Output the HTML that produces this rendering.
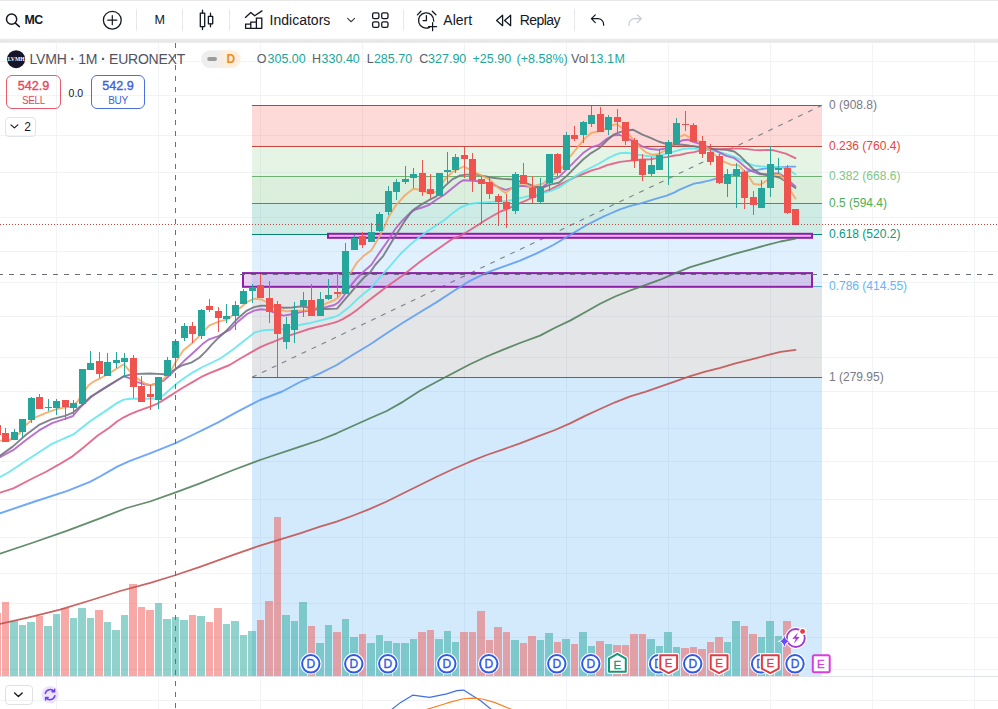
<!DOCTYPE html>
<html><head><meta charset="utf-8"><title>LVMH chart</title>
<style>
html,body{margin:0;padding:0;background:#fff;}
body{width:998px;height:709px;overflow:hidden;position:relative;font-family:"Liberation Sans",sans-serif;color:#131722;}
#chart{position:absolute;left:0;top:0;}
.tb{position:absolute;left:0;top:0;width:998px;height:38px;background:#fff;border-top:1px solid #e8e8e8;box-sizing:border-box;}
.band{position:absolute;left:0;top:38px;width:998px;height:5px;background:#fff;}
.t{position:absolute;white-space:nowrap;line-height:1;}
.sep{position:absolute;top:9px;width:1px;height:22px;background:#e6e8ee;}
.ico{position:absolute;overflow:visible;}
.btn{position:absolute;box-sizing:border-box;border-radius:6px;border:1px solid;background:transparent;text-align:center;}
</style></head><body>
<svg id="chart" width="998" height="709" viewBox="0 0 998 709">
<rect x="56" y="42" width="1" height="667" fill="#f2f3f7"/>
<rect x="158" y="42" width="1" height="667" fill="#f2f3f7"/>
<rect x="260" y="42" width="1" height="667" fill="#f2f3f7"/>
<rect x="362" y="42" width="1" height="667" fill="#f2f3f7"/>
<rect x="464" y="42" width="1" height="667" fill="#f2f3f7"/>
<rect x="566" y="42" width="1" height="667" fill="#f2f3f7"/>
<rect x="668" y="42" width="1" height="667" fill="#f2f3f7"/>
<rect x="770" y="42" width="1" height="667" fill="#f2f3f7"/>
<rect x="872" y="42" width="1" height="667" fill="#f2f3f7"/>
<rect x="974" y="42" width="1" height="667" fill="#f2f3f7"/>
<rect x="0" y="61" width="998" height="1" fill="#f2f3f7"/>
<rect x="0" y="95" width="998" height="1" fill="#f2f3f7"/>
<rect x="0" y="135" width="998" height="1" fill="#f2f3f7"/>
<rect x="0" y="172" width="998" height="1" fill="#f2f3f7"/>
<rect x="0" y="217" width="998" height="1" fill="#f2f3f7"/>
<rect x="0" y="251" width="998" height="1" fill="#f2f3f7"/>
<rect x="0" y="282" width="998" height="1" fill="#f2f3f7"/>
<rect x="0" y="316" width="998" height="1" fill="#f2f3f7"/>
<rect x="0" y="357" width="998" height="1" fill="#f2f3f7"/>
<rect x="0" y="391" width="998" height="1" fill="#f2f3f7"/>
<rect x="0" y="428" width="998" height="1" fill="#f2f3f7"/>
<rect x="0" y="461" width="998" height="1" fill="#f2f3f7"/>
<rect x="0" y="499" width="998" height="1" fill="#f2f3f7"/>
<rect x="0" y="537" width="998" height="1" fill="#f2f3f7"/>
<rect x="0" y="573" width="998" height="1" fill="#f2f3f7"/>
<rect x="0" y="603" width="998" height="1" fill="#f2f3f7"/>
<rect x="0" y="637" width="998" height="1" fill="#f2f3f7"/>
<rect x="0" y="669" width="998" height="1" fill="#f2f3f7"/>
<rect x="0" y="700" width="998" height="1" fill="#f2f3f7"/>
<rect x="252" y="105.5" width="570" height="41" fill="#f44336" fill-opacity="0.2"/>
<rect x="252" y="146.5" width="570" height="30" fill="#81c784" fill-opacity="0.2"/>
<rect x="252" y="176.5" width="570" height="27" fill="#4caf50" fill-opacity="0.2"/>
<rect x="252" y="203.5" width="570" height="31" fill="#089981" fill-opacity="0.2"/>
<rect x="252" y="234.5" width="570" height="52" fill="#64b5f6" fill-opacity="0.2"/>
<rect x="252" y="286.5" width="570" height="91" fill="#787b86" fill-opacity="0.2"/>
<rect x="252" y="377.5" width="570" height="299" fill="#2196f3" fill-opacity="0.2"/>
<rect x="252" y="105" width="570" height="1" fill="#62656f"/>
<rect x="252" y="146" width="570" height="1" fill="#c4463d"/>
<rect x="252" y="176" width="570" height="1" fill="#6fb174"/>
<rect x="252" y="203" width="570" height="1" fill="#419a46"/>
<rect x="252" y="234" width="570" height="1" fill="#088270"/>
<rect x="252" y="286" width="570" height="1" fill="#5aa9ea"/>
<rect x="252" y="377" width="570" height="1" fill="#62656f"/>
<line x1="252" y1="377.3" x2="822" y2="105.3" stroke="#7d808b" stroke-width="1.1" stroke-dasharray="5 6"/>
<rect x="328" y="233.8" width="484" height="4.0" fill="#f7b2fa" fill-opacity="0.95" stroke="#8f1fa8" stroke-width="2"/>
<rect x="243" y="273.1" width="569" height="13.699999999999989" fill="#9c27b0" fill-opacity="0.2" stroke="#8f1fa8" stroke-width="2"/>
<rect x="-7" y="613" width="8" height="63" fill="#ef5350" fill-opacity="0.5"/>
<rect x="2" y="602" width="7" height="74" fill="#ef5350" fill-opacity="0.5"/>
<rect x="10" y="621" width="8" height="55" fill="#26a69a" fill-opacity="0.5"/>
<rect x="19" y="625" width="7" height="51" fill="#26a69a" fill-opacity="0.5"/>
<rect x="27" y="622" width="8" height="54" fill="#26a69a" fill-opacity="0.5"/>
<rect x="36" y="616" width="7" height="60" fill="#ef5350" fill-opacity="0.5"/>
<rect x="44" y="626" width="8" height="50" fill="#26a69a" fill-opacity="0.5"/>
<rect x="53" y="614" width="7" height="62" fill="#26a69a" fill-opacity="0.5"/>
<rect x="61" y="608" width="8" height="68" fill="#ef5350" fill-opacity="0.5"/>
<rect x="70" y="618" width="7" height="58" fill="#26a69a" fill-opacity="0.5"/>
<rect x="78" y="608" width="8" height="68" fill="#26a69a" fill-opacity="0.5"/>
<rect x="87" y="618" width="7" height="58" fill="#26a69a" fill-opacity="0.5"/>
<rect x="95" y="610" width="8" height="66" fill="#ef5350" fill-opacity="0.5"/>
<rect x="104" y="622" width="7" height="54" fill="#26a69a" fill-opacity="0.5"/>
<rect x="112" y="630" width="8" height="46" fill="#26a69a" fill-opacity="0.5"/>
<rect x="121" y="615" width="7" height="61" fill="#26a69a" fill-opacity="0.5"/>
<rect x="129" y="584" width="8" height="92" fill="#ef5350" fill-opacity="0.5"/>
<rect x="138" y="607" width="7" height="69" fill="#ef5350" fill-opacity="0.5"/>
<rect x="146" y="610" width="8" height="66" fill="#ef5350" fill-opacity="0.5"/>
<rect x="155" y="603" width="7" height="73" fill="#26a69a" fill-opacity="0.5"/>
<rect x="163" y="619" width="8" height="57" fill="#26a69a" fill-opacity="0.5"/>
<rect x="172" y="617" width="7" height="59" fill="#26a69a" fill-opacity="0.5"/>
<rect x="180" y="620" width="8" height="56" fill="#26a69a" fill-opacity="0.5"/>
<rect x="189" y="615" width="7" height="61" fill="#ef5350" fill-opacity="0.5"/>
<rect x="197" y="616" width="8" height="60" fill="#26a69a" fill-opacity="0.5"/>
<rect x="206" y="622" width="7" height="54" fill="#ef5350" fill-opacity="0.5"/>
<rect x="214" y="608" width="8" height="68" fill="#ef5350" fill-opacity="0.5"/>
<rect x="223" y="624" width="7" height="52" fill="#26a69a" fill-opacity="0.5"/>
<rect x="231" y="621" width="8" height="55" fill="#26a69a" fill-opacity="0.5"/>
<rect x="240" y="635" width="7" height="41" fill="#26a69a" fill-opacity="0.5"/>
<rect x="248" y="631" width="8" height="45" fill="#26a69a" fill-opacity="0.5"/>
<rect x="257" y="620" width="7" height="56" fill="#ef5350" fill-opacity="0.5"/>
<rect x="265" y="601" width="8" height="75" fill="#ef5350" fill-opacity="0.5"/>
<rect x="274" y="517" width="7" height="159" fill="#ef5350" fill-opacity="0.5"/>
<rect x="282" y="615" width="8" height="61" fill="#26a69a" fill-opacity="0.5"/>
<rect x="291" y="621" width="7" height="55" fill="#26a69a" fill-opacity="0.5"/>
<rect x="299" y="602" width="8" height="74" fill="#26a69a" fill-opacity="0.5"/>
<rect x="308" y="626" width="7" height="50" fill="#ef5350" fill-opacity="0.5"/>
<rect x="316" y="643" width="8" height="33" fill="#26a69a" fill-opacity="0.5"/>
<rect x="325" y="625" width="7" height="51" fill="#26a69a" fill-opacity="0.5"/>
<rect x="333" y="632" width="8" height="44" fill="#ef5350" fill-opacity="0.5"/>
<rect x="342" y="619" width="7" height="57" fill="#26a69a" fill-opacity="0.5"/>
<rect x="350" y="637" width="8" height="39" fill="#26a69a" fill-opacity="0.5"/>
<rect x="359" y="634" width="7" height="42" fill="#ef5350" fill-opacity="0.5"/>
<rect x="367" y="643" width="8" height="33" fill="#26a69a" fill-opacity="0.5"/>
<rect x="376" y="635" width="7" height="41" fill="#26a69a" fill-opacity="0.5"/>
<rect x="384" y="641" width="8" height="35" fill="#26a69a" fill-opacity="0.5"/>
<rect x="393" y="643" width="7" height="33" fill="#26a69a" fill-opacity="0.5"/>
<rect x="401" y="643" width="8" height="33" fill="#26a69a" fill-opacity="0.5"/>
<rect x="410" y="639" width="7" height="37" fill="#26a69a" fill-opacity="0.5"/>
<rect x="418" y="632" width="8" height="44" fill="#ef5350" fill-opacity="0.5"/>
<rect x="427" y="630" width="7" height="46" fill="#ef5350" fill-opacity="0.5"/>
<rect x="435" y="639" width="8" height="37" fill="#26a69a" fill-opacity="0.5"/>
<rect x="444" y="631" width="7" height="45" fill="#26a69a" fill-opacity="0.5"/>
<rect x="452" y="642" width="7" height="34" fill="#26a69a" fill-opacity="0.5"/>
<rect x="460" y="632" width="8" height="44" fill="#ef5350" fill-opacity="0.5"/>
<rect x="469" y="632" width="7" height="44" fill="#ef5350" fill-opacity="0.5"/>
<rect x="477" y="611" width="8" height="65" fill="#ef5350" fill-opacity="0.5"/>
<rect x="486" y="640" width="7" height="36" fill="#ef5350" fill-opacity="0.5"/>
<rect x="494" y="627" width="8" height="49" fill="#ef5350" fill-opacity="0.5"/>
<rect x="503" y="632" width="7" height="44" fill="#ef5350" fill-opacity="0.5"/>
<rect x="511" y="640" width="8" height="36" fill="#26a69a" fill-opacity="0.5"/>
<rect x="520" y="643" width="7" height="33" fill="#ef5350" fill-opacity="0.5"/>
<rect x="528" y="636" width="8" height="40" fill="#ef5350" fill-opacity="0.5"/>
<rect x="537" y="640" width="7" height="36" fill="#26a69a" fill-opacity="0.5"/>
<rect x="545" y="633" width="8" height="43" fill="#26a69a" fill-opacity="0.5"/>
<rect x="554" y="642" width="7" height="34" fill="#ef5350" fill-opacity="0.5"/>
<rect x="562" y="639" width="8" height="37" fill="#26a69a" fill-opacity="0.5"/>
<rect x="571" y="644" width="7" height="32" fill="#ef5350" fill-opacity="0.5"/>
<rect x="579" y="632" width="8" height="44" fill="#26a69a" fill-opacity="0.5"/>
<rect x="588" y="646" width="7" height="30" fill="#26a69a" fill-opacity="0.5"/>
<rect x="596" y="641" width="8" height="35" fill="#ef5350" fill-opacity="0.5"/>
<rect x="605" y="644" width="7" height="32" fill="#26a69a" fill-opacity="0.5"/>
<rect x="613" y="645" width="8" height="31" fill="#ef5350" fill-opacity="0.5"/>
<rect x="622" y="645" width="7" height="31" fill="#ef5350" fill-opacity="0.5"/>
<rect x="630" y="634" width="8" height="42" fill="#ef5350" fill-opacity="0.5"/>
<rect x="639" y="634" width="7" height="42" fill="#ef5350" fill-opacity="0.5"/>
<rect x="647" y="639" width="8" height="37" fill="#26a69a" fill-opacity="0.5"/>
<rect x="656" y="646" width="7" height="30" fill="#26a69a" fill-opacity="0.5"/>
<rect x="664" y="632" width="8" height="44" fill="#26a69a" fill-opacity="0.5"/>
<rect x="673" y="647" width="7" height="29" fill="#26a69a" fill-opacity="0.5"/>
<rect x="681" y="648" width="8" height="28" fill="#ef5350" fill-opacity="0.5"/>
<rect x="690" y="647" width="7" height="29" fill="#ef5350" fill-opacity="0.5"/>
<rect x="698" y="649" width="8" height="27" fill="#ef5350" fill-opacity="0.5"/>
<rect x="707" y="642" width="7" height="34" fill="#ef5350" fill-opacity="0.5"/>
<rect x="715" y="637" width="8" height="39" fill="#ef5350" fill-opacity="0.5"/>
<rect x="724" y="642" width="7" height="34" fill="#26a69a" fill-opacity="0.5"/>
<rect x="732" y="621" width="8" height="55" fill="#26a69a" fill-opacity="0.5"/>
<rect x="741" y="626" width="7" height="50" fill="#ef5350" fill-opacity="0.5"/>
<rect x="749" y="634" width="8" height="42" fill="#ef5350" fill-opacity="0.5"/>
<rect x="758" y="637" width="7" height="39" fill="#26a69a" fill-opacity="0.5"/>
<rect x="766" y="621" width="8" height="55" fill="#26a69a" fill-opacity="0.5"/>
<rect x="775" y="636" width="7" height="40" fill="#26a69a" fill-opacity="0.5"/>
<rect x="783" y="621" width="8" height="55" fill="#ef5350" fill-opacity="0.5"/>
<rect x="792" y="674" width="7" height="2" fill="#ef5350" fill-opacity="0.5"/>
<polyline points="-2.0,624.5 0.0,624.0 30.0,617.1 60.0,609.6 90.0,600.5 120.2,591.0 150.3,582.8 174.3,575.5 200.0,566.8 233.3,554.8 260.0,545.6 300.0,533.3 320.0,526.7 336.7,521.7 353.3,515.5 370.0,508.9 386.7,501.5 403.3,493.2 420.0,485.0 436.7,476.7 453.3,469.0 470.0,461.7 486.7,455.0 503.3,449.3 520.0,443.3 540.0,435.6 555.0,430.0 570.1,423.4 585.1,415.9 600.1,409.0 615.1,402.3 630.2,396.3 645.2,391.8 660.2,386.7 675.3,381.3 690.3,376.2 705.3,371.7 720.3,367.8 735.4,363.3 750.4,359.7 765.4,355.7 780.5,351.8 795.5,349.8" fill="none" stroke="#c2504f" stroke-width="1.8" stroke-opacity="0.88" stroke-linejoin="round" stroke-linecap="round"/>
<polyline points="-2.0,554.2 0.0,553.6 33.3,542.5 66.7,530.9 100.0,518.4 126.7,508.0 150.0,501.5 175.0,492.7 200.0,483.3 233.3,470.0 260.0,460.0 300.0,446.7 320.0,440.0 336.7,433.3 353.3,425.8 370.0,418.3 386.7,411.0 403.3,401.6 420.0,390.7 436.7,381.7 453.3,373.0 470.0,364.2 486.7,356.5 503.3,349.6 520.0,343.0 540.0,335.6 555.0,327.8 570.1,320.6 585.1,312.2 600.1,303.8 615.1,296.5 630.2,290.5 645.2,285.1 660.2,279.7 675.3,273.1 690.3,267.1 705.3,262.6 720.3,258.1 735.4,253.6 750.4,249.6 765.4,245.4 780.5,241.5 795.5,238.7" fill="none" stroke="#4e7d57" stroke-width="1.8" stroke-opacity="0.88" stroke-linejoin="round" stroke-linecap="round"/>
<polyline points="-2.0,514.0 0.0,513.3 33.3,502.0 66.7,491.2 90.0,481.8 100.0,476.5 106.8,472.6 117.2,466.6 130.0,460.8 150.0,453.3 175.0,443.3 194.5,434.0 202.5,430.1 218.6,422.1 234.7,413.2 250.0,405.2 260.0,400.0 282.2,391.5 300.0,382.0 320.0,373.3 336.7,365.0 353.3,354.5 370.0,344.5 386.7,333.3 403.3,322.5 420.0,312.2 436.7,302.1 453.3,291.2 470.0,280.8 486.7,272.7 503.3,266.7 520.0,260.7 536.7,253.3 553.3,245.0 570.0,235.0 586.7,225.0 603.3,216.7 610.4,213.5 620.0,209.3 629.7,206.1 642.5,202.9 655.4,198.9 666.7,195.7 674.7,192.4 678.0,190.4 686.1,186.8 694.1,183.6 702.2,182.2 710.2,180.3 718.2,178.2 726.3,176.0 734.3,174.2 742.3,172.5 750.4,171.0 758.4,169.6 766.5,168.4 774.5,167.6 782.5,167.1 790.6,166.6 795.4,166.6" fill="none" stroke="#5b9cf6" stroke-width="1.9" stroke-opacity="0.88" stroke-linejoin="round" stroke-linecap="round"/>
<polyline points="-2.0,493.3 0.0,492.7 13.3,488.3 33.3,478.0 45.6,472.0 58.6,464.7 71.6,456.9 84.7,446.4 97.7,435.5 109.3,427.7 117.3,421.3 123.8,417.3 130.2,414.1 138.2,410.8 149.5,406.8 157.5,403.6 164.0,399.6 170.4,395.6 176.8,391.5 183.2,387.5 192.9,381.9 202.5,376.3 209.0,373.3 218.6,369.5 229.6,365.0 240.3,358.5 249.7,353.1 260.4,347.1 266.7,344.4 273.8,341.7 283.6,337.6 292.1,334.6 300.5,331.8 309.0,329.0 317.4,326.9 325.9,324.8 334.4,322.6 338.6,321.2 342.8,319.1 349.9,314.9 356.9,309.9 364.0,304.3 370.0,299.4 386.7,286.7 403.3,275.0 420.0,261.7 431.4,253.5 444.3,244.5 452.3,238.9 460.4,236.0 468.4,231.0 476.5,226.0 484.5,220.8 492.5,216.0 500.6,211.5 508.6,208.3 516.7,204.3 524.7,201.1 532.7,197.5 542.9,192.4 550.9,189.2 558.9,185.2 567.0,181.2 575.0,177.2 583.1,174.0 591.1,170.7 599.1,168.3 607.2,165.1 613.6,163.5 620.0,161.9 626.5,161.1 634.5,160.3 642.5,159.5 650.6,159.2 658.6,157.9 666.7,157.1 674.7,155.5 679.6,155.0 686.1,153.4 694.1,152.1 702.2,150.2 710.2,149.4 718.2,149.1 726.3,148.9 734.3,148.6 740.7,148.6 747.2,149.1 753.6,149.9 760.0,150.2 766.5,149.9 772.9,150.2 779.3,151.8 785.8,153.7 790.6,155.8 795.4,158.2" fill="none" stroke="#e05a82" stroke-width="1.9" stroke-opacity="0.88" stroke-linejoin="round" stroke-linecap="round"/>
<polyline points="-2.0,478.0 0.0,477.0 9.1,472.0 26.0,460.8 39.0,452.3 52.0,443.8 65.0,438.0 73.0,434.7 84.7,425.6 90.0,421.3 99.6,414.9 109.3,408.4 117.3,402.8 123.8,399.6 130.2,398.8 138.2,398.8 149.5,398.8 157.5,398.5 164.0,394.8 170.4,389.1 176.8,383.5 183.2,378.7 192.9,372.3 202.5,367.0 206.8,365.0 213.0,362.0 220.2,358.5 226.7,354.0 233.6,349.1 240.3,343.7 247.0,338.4 255.1,332.3 263.1,330.3 273.8,329.7 283.6,329.0 292.1,326.9 300.5,324.8 309.0,323.3 317.4,321.2 325.9,319.1 334.4,317.0 338.6,315.2 342.8,312.1 349.9,306.4 356.9,299.6 364.0,293.6 370.0,288.8 378.0,279.5 386.7,270.0 394.0,261.5 400.9,253.5 412.2,242.9 420.2,236.5 428.2,230.8 436.3,225.2 444.3,220.3 452.3,213.4 460.4,207.5 468.4,204.3 476.5,203.0 484.5,202.4 492.5,201.9 502.2,201.4 511.8,200.3 521.5,197.9 531.1,195.5 542.9,193.2 550.9,190.8 558.9,187.6 567.0,182.0 575.0,176.4 583.1,171.5 591.1,167.5 599.1,163.5 607.2,158.7 613.6,155.5 620.0,153.1 626.5,152.7 632.9,153.9 642.5,155.5 650.6,156.3 658.6,155.5 666.7,153.9 674.7,151.4 682.7,149.0 690.0,148.2 694.1,148.6 702.2,149.4 710.2,150.2 718.2,151.8 726.3,154.2 734.3,156.6 740.7,159.8 747.2,163.1 753.6,165.5 760.0,166.3 766.5,166.6 772.9,166.6 779.3,167.1 785.8,168.7 790.6,171.1 795.4,174.3" fill="none" stroke="#5ce6ee" stroke-width="1.9" stroke-opacity="0.88" stroke-linejoin="round" stroke-linecap="round"/>
<polyline points="-2.0,458.0 0.0,457.2 13.0,450.2 26.0,440.0 39.0,430.4 52.0,423.1 65.0,418.9 73.0,416.0 80.8,406.7 91.2,396.9 99.6,390.7 109.3,385.1 117.3,380.3 123.8,376.3 128.6,377.9 136.6,381.9 144.7,384.3 150.3,385.1 157.5,383.5 164.0,380.3 170.4,374.7 176.8,368.2 183.2,361.8 192.9,353.0 202.5,344.1 209.0,339.3 218.6,336.1 226.7,331.3 230.0,329.7 238.5,321.2 246.9,314.2 254.0,310.6 261.0,309.2 266.7,309.9 275.1,312.8 283.6,315.6 292.1,314.2 300.5,312.1 309.0,310.6 317.4,309.2 325.9,307.1 334.4,305.0 338.6,302.2 342.8,297.2 349.9,286.7 356.9,278.2 364.0,271.2 371.2,265.0 379.2,253.1 388.6,239.7 395.3,229.0 402.0,220.9 410.1,212.9 415.4,209.5 422.1,207.5 428.8,205.1 436.3,199.8 444.3,194.7 452.3,188.2 460.4,181.8 463.6,180.2 476.5,181.0 484.5,182.6 492.5,184.2 499.0,187.4 505.4,189.8 511.8,188.2 521.5,185.8 527.9,186.6 534.3,187.5 542.9,186.8 550.9,180.4 558.9,177.2 567.0,169.1 575.0,161.1 583.1,153.1 591.1,147.4 599.1,145.0 607.2,138.6 613.6,135.4 620.0,135.0 626.5,137.8 634.5,141.8 642.5,146.6 650.6,149.0 658.6,149.8 666.7,148.2 674.7,144.2 682.7,140.2 688.0,139.7 694.1,142.2 702.2,144.6 710.2,147.8 718.2,151.8 726.3,155.8 734.3,158.2 740.7,163.1 747.2,168.7 753.6,171.9 760.0,174.3 766.5,174.3 772.9,173.5 779.3,173.5 785.8,177.5 790.6,182.3 795.4,186.4" fill="none" stroke="#b05cc8" stroke-width="1.9" stroke-opacity="0.88" stroke-linejoin="round" stroke-linecap="round"/>
<polyline points="-2.0,456.5 0.0,455.6 13.0,446.4 26.0,434.7 39.0,424.9 52.0,419.1 65.0,415.8 73.0,412.6 80.8,406.1 91.2,396.3 99.6,391.5 109.3,385.1 117.3,380.3 123.8,376.3 130.2,374.7 138.2,373.9 149.5,373.5 157.5,373.9 164.0,374.3 170.4,372.3 176.8,368.2 183.2,365.0 191.3,362.6 199.3,357.8 205.8,351.4 212.2,344.1 218.6,337.7 226.7,330.5 230.0,326.9 238.5,317.7 246.9,310.6 254.0,307.1 261.0,305.7 266.7,305.7 275.1,306.4 283.6,307.8 292.1,307.5 300.5,306.4 309.0,307.5 317.4,308.5 325.9,309.0 337.0,308.6 338.8,306.6 342.8,301.8 349.9,293.7 356.9,285.3 364.0,277.5 370.0,272.6 375.2,265.0 383.3,255.8 391.3,242.4 398.0,231.7 404.7,220.9 412.7,210.2 420.8,204.9 428.8,200.2 436.3,196.3 444.3,186.6 452.3,179.4 460.4,175.4 466.8,174.6 476.5,174.6 484.5,176.2 492.5,177.8 502.2,178.9 511.8,179.4 524.7,182.6 534.3,186.5 542.9,187.6 550.9,184.4 558.9,182.8 567.0,175.6 575.0,167.5 583.1,159.5 591.1,153.1 599.1,148.2 607.2,140.2 613.6,134.6 620.0,132.2 626.5,130.5 632.9,129.7 642.5,134.6 650.6,137.8 658.6,141.5 666.7,144.2 674.7,144.5 682.7,144.8 690.0,145.8 694.1,146.2 702.2,147.8 710.2,148.6 718.2,149.4 726.3,149.9 734.3,151.5 740.7,156.6 747.2,163.1 753.6,169.5 760.0,173.5 766.5,175.1 772.9,175.9 779.3,177.5 785.8,181.5 790.6,184.8 795.4,188.0" fill="none" stroke="#70737d" stroke-width="1.9" stroke-opacity="0.88" stroke-linejoin="round" stroke-linecap="round"/>
<polyline points="-2.0,440.6 9.0,440.6 19.5,433.4 26.0,425.0 34.0,417.8 45.6,413.2 56.0,409.3 65.0,407.4 73.0,406.7 78.0,400.8 88.6,385.2 94.0,381.3 99.6,378.7 109.3,373.1 117.3,368.2 123.8,364.2 128.6,369.8 136.6,377.9 144.7,383.5 150.3,385.1 157.5,383.5 164.0,378.7 170.4,371.4 176.8,360.2 183.2,350.5 192.9,342.5 202.5,332.9 209.0,325.6 218.6,321.6 226.7,319.5 230.0,317.7 238.5,309.2 246.9,302.2 254.0,298.7 261.0,299.4 265.3,301.5 272.3,305.7 280.8,309.9 286.4,311.4 293.5,310.6 303.3,310.6 309.0,309.9 317.4,307.1 325.9,303.6 334.4,300.1 338.6,297.2 342.8,290.9 349.9,274.0 356.9,262.7 364.0,255.6 371.2,250.4 379.2,237.0 384.6,226.3 388.6,216.9 395.3,206.2 404.7,195.5 413.4,188.8 421.0,190.0 431.0,194.0 439.0,190.0 444.3,180.0 452.3,172.2 463.6,166.5 470.0,169.7 479.7,174.6 489.3,179.4 499.0,188.2 505.4,193.1 511.8,188.2 518.0,184.0 524.0,183.4 530.0,186.8 542.9,183.6 554.1,174.0 562.2,167.5 570.2,156.3 578.2,146.6 584.7,138.6 591.1,133.0 602.3,130.5 610.4,125.7 616.8,124.1 623.2,128.9 629.7,135.4 639.3,146.6 645.8,152.3 652.2,154.7 658.6,153.9 665.0,150.6 671.5,145.0 679.5,137.0 684.5,134.7 690.9,138.1 698.9,141.4 707.0,147.8 715.0,155.0 723.1,161.4 731.1,164.7 739.1,165.5 747.2,174.3 753.6,184.0 760.0,184.8 766.5,180.7 772.9,175.1 779.3,174.3 785.8,180.7 790.6,190.4 795.4,198.4" fill="none" stroke="#f5a662" stroke-width="1.9" stroke-opacity="0.88" stroke-linejoin="round" stroke-linecap="round"/>
<rect x="-3" y="420" width="1" height="17" fill="#ef5350"/>
<rect x="-6" y="425" width="7" height="10" fill="#ef5350"/>
<rect x="5" y="428" width="1" height="14" fill="#ef5350"/>
<rect x="2" y="433" width="7" height="9" fill="#ef5350"/>
<rect x="14" y="429" width="1" height="11" fill="#26a69a"/>
<rect x="11" y="432" width="7" height="8" fill="#26a69a"/>
<rect x="22" y="419" width="1" height="18" fill="#26a69a"/>
<rect x="19" y="419" width="7" height="13" fill="#26a69a"/>
<rect x="31" y="397" width="1" height="26" fill="#26a69a"/>
<rect x="28" y="398" width="7" height="22" fill="#26a69a"/>
<rect x="39" y="394" width="1" height="15" fill="#ef5350"/>
<rect x="36" y="397" width="7" height="12" fill="#ef5350"/>
<rect x="48" y="399" width="1" height="12" fill="#26a69a"/>
<rect x="45" y="407" width="7" height="1" fill="#26a69a"/>
<rect x="56" y="399" width="1" height="16" fill="#26a69a"/>
<rect x="53" y="401" width="7" height="7" fill="#26a69a"/>
<rect x="65" y="400" width="1" height="20" fill="#ef5350"/>
<rect x="62" y="400" width="7" height="7" fill="#ef5350"/>
<rect x="73" y="400" width="1" height="15" fill="#26a69a"/>
<rect x="70" y="403" width="7" height="5" fill="#26a69a"/>
<rect x="82" y="369" width="1" height="35" fill="#26a69a"/>
<rect x="79" y="369" width="7" height="35" fill="#26a69a"/>
<rect x="90" y="351" width="1" height="19" fill="#26a69a"/>
<rect x="87" y="363" width="7" height="7" fill="#26a69a"/>
<rect x="99" y="352" width="1" height="26" fill="#ef5350"/>
<rect x="96" y="361" width="7" height="13" fill="#ef5350"/>
<rect x="107" y="353" width="1" height="23" fill="#26a69a"/>
<rect x="104" y="362" width="7" height="14" fill="#26a69a"/>
<rect x="116" y="352" width="1" height="16" fill="#26a69a"/>
<rect x="113" y="360" width="7" height="3" fill="#26a69a"/>
<rect x="124" y="353" width="1" height="24" fill="#26a69a"/>
<rect x="121" y="358" width="7" height="4" fill="#26a69a"/>
<rect x="133" y="355" width="1" height="43" fill="#ef5350"/>
<rect x="130" y="358" width="7" height="29" fill="#ef5350"/>
<rect x="141" y="376" width="1" height="26" fill="#ef5350"/>
<rect x="138" y="386" width="7" height="16" fill="#ef5350"/>
<rect x="150" y="385" width="1" height="25" fill="#ef5350"/>
<rect x="147" y="394" width="7" height="3" fill="#ef5350"/>
<rect x="158" y="377" width="1" height="32" fill="#26a69a"/>
<rect x="155" y="377" width="7" height="23" fill="#26a69a"/>
<rect x="167" y="357" width="1" height="19" fill="#26a69a"/>
<rect x="164" y="360" width="7" height="16" fill="#26a69a"/>
<rect x="175" y="339" width="1" height="30" fill="#26a69a"/>
<rect x="172" y="341" width="7" height="17" fill="#26a69a"/>
<rect x="184" y="323" width="1" height="18" fill="#26a69a"/>
<rect x="181" y="326" width="7" height="12" fill="#26a69a"/>
<rect x="192" y="322" width="1" height="21" fill="#ef5350"/>
<rect x="189" y="326" width="7" height="8" fill="#ef5350"/>
<rect x="201" y="309" width="1" height="30" fill="#26a69a"/>
<rect x="198" y="310" width="7" height="26" fill="#26a69a"/>
<rect x="209" y="299" width="1" height="13" fill="#ef5350"/>
<rect x="206" y="306" width="7" height="4" fill="#ef5350"/>
<rect x="218" y="307" width="1" height="25" fill="#ef5350"/>
<rect x="215" y="311" width="7" height="7" fill="#ef5350"/>
<rect x="226" y="304" width="1" height="19" fill="#26a69a"/>
<rect x="223" y="316" width="7" height="3" fill="#26a69a"/>
<rect x="235" y="301" width="1" height="29" fill="#26a69a"/>
<rect x="232" y="305" width="7" height="11" fill="#26a69a"/>
<rect x="243" y="289" width="1" height="15" fill="#26a69a"/>
<rect x="240" y="291" width="7" height="13" fill="#26a69a"/>
<rect x="252" y="284" width="1" height="19" fill="#26a69a"/>
<rect x="249" y="287" width="7" height="4" fill="#26a69a"/>
<rect x="260" y="274" width="1" height="24" fill="#ef5350"/>
<rect x="257" y="285" width="7" height="13" fill="#ef5350"/>
<rect x="269" y="281" width="1" height="42" fill="#ef5350"/>
<rect x="266" y="298" width="7" height="14" fill="#ef5350"/>
<rect x="277" y="301" width="1" height="76" fill="#ef5350"/>
<rect x="274" y="304" width="7" height="30" fill="#ef5350"/>
<rect x="286" y="317" width="1" height="32" fill="#26a69a"/>
<rect x="283" y="324" width="7" height="18" fill="#26a69a"/>
<rect x="294" y="302" width="1" height="41" fill="#26a69a"/>
<rect x="291" y="310" width="7" height="20" fill="#26a69a"/>
<rect x="303" y="292" width="1" height="25" fill="#26a69a"/>
<rect x="300" y="300" width="7" height="6" fill="#26a69a"/>
<rect x="311" y="284" width="1" height="32" fill="#ef5350"/>
<rect x="308" y="300" width="7" height="16" fill="#ef5350"/>
<rect x="320" y="292" width="1" height="24" fill="#26a69a"/>
<rect x="317" y="299" width="7" height="17" fill="#26a69a"/>
<rect x="328" y="279" width="1" height="21" fill="#26a69a"/>
<rect x="325" y="295" width="7" height="4" fill="#26a69a"/>
<rect x="337" y="273" width="1" height="24" fill="#ef5350"/>
<rect x="334" y="292" width="7" height="2" fill="#ef5350"/>
<rect x="345" y="243" width="1" height="51" fill="#26a69a"/>
<rect x="342" y="251" width="7" height="43" fill="#26a69a"/>
<rect x="354" y="235" width="1" height="15" fill="#26a69a"/>
<rect x="351" y="238" width="7" height="12" fill="#26a69a"/>
<rect x="362" y="232" width="1" height="16" fill="#ef5350"/>
<rect x="359" y="236" width="7" height="9" fill="#ef5350"/>
<rect x="371" y="223" width="1" height="19" fill="#26a69a"/>
<rect x="368" y="232" width="7" height="10" fill="#26a69a"/>
<rect x="379" y="212" width="1" height="20" fill="#26a69a"/>
<rect x="376" y="214" width="7" height="17" fill="#26a69a"/>
<rect x="388" y="186" width="1" height="29" fill="#26a69a"/>
<rect x="385" y="191" width="7" height="21" fill="#26a69a"/>
<rect x="396" y="179" width="1" height="21" fill="#26a69a"/>
<rect x="393" y="182" width="7" height="10" fill="#26a69a"/>
<rect x="405" y="166" width="1" height="18" fill="#26a69a"/>
<rect x="402" y="179" width="7" height="3" fill="#26a69a"/>
<rect x="413" y="168" width="1" height="20" fill="#26a69a"/>
<rect x="410" y="174" width="7" height="4" fill="#26a69a"/>
<rect x="422" y="160" width="1" height="36" fill="#ef5350"/>
<rect x="419" y="173" width="7" height="19" fill="#ef5350"/>
<rect x="430" y="174" width="1" height="24" fill="#ef5350"/>
<rect x="427" y="189" width="7" height="5" fill="#ef5350"/>
<rect x="439" y="173" width="1" height="23" fill="#26a69a"/>
<rect x="436" y="173" width="7" height="23" fill="#26a69a"/>
<rect x="447" y="152" width="1" height="31" fill="#26a69a"/>
<rect x="444" y="170" width="7" height="2" fill="#26a69a"/>
<rect x="455" y="154" width="1" height="19" fill="#26a69a"/>
<rect x="452" y="157" width="7" height="13" fill="#26a69a"/>
<rect x="464" y="147" width="1" height="31" fill="#ef5350"/>
<rect x="461" y="155" width="7" height="4" fill="#ef5350"/>
<rect x="472" y="153" width="1" height="39" fill="#ef5350"/>
<rect x="469" y="159" width="7" height="21" fill="#ef5350"/>
<rect x="481" y="176" width="1" height="48" fill="#ef5350"/>
<rect x="478" y="179" width="7" height="5" fill="#ef5350"/>
<rect x="489" y="177" width="1" height="22" fill="#ef5350"/>
<rect x="486" y="182" width="7" height="12" fill="#ef5350"/>
<rect x="498" y="194" width="1" height="32" fill="#ef5350"/>
<rect x="495" y="196" width="7" height="6" fill="#ef5350"/>
<rect x="506" y="194" width="1" height="34" fill="#ef5350"/>
<rect x="503" y="202" width="7" height="7" fill="#ef5350"/>
<rect x="515" y="172" width="1" height="42" fill="#26a69a"/>
<rect x="512" y="174" width="7" height="37" fill="#26a69a"/>
<rect x="523" y="163" width="1" height="21" fill="#ef5350"/>
<rect x="520" y="175" width="7" height="9" fill="#ef5350"/>
<rect x="532" y="176" width="1" height="27" fill="#ef5350"/>
<rect x="529" y="188" width="7" height="10" fill="#ef5350"/>
<rect x="540" y="178" width="1" height="25" fill="#26a69a"/>
<rect x="537" y="187" width="7" height="15" fill="#26a69a"/>
<rect x="549" y="154" width="1" height="37" fill="#26a69a"/>
<rect x="546" y="154" width="7" height="29" fill="#26a69a"/>
<rect x="557" y="153" width="1" height="23" fill="#ef5350"/>
<rect x="554" y="154" width="7" height="19" fill="#ef5350"/>
<rect x="566" y="132" width="1" height="38" fill="#26a69a"/>
<rect x="563" y="135" width="7" height="35" fill="#26a69a"/>
<rect x="574" y="126" width="1" height="15" fill="#ef5350"/>
<rect x="571" y="135" width="7" height="4" fill="#ef5350"/>
<rect x="583" y="121" width="1" height="22" fill="#26a69a"/>
<rect x="580" y="122" width="7" height="13" fill="#26a69a"/>
<rect x="591" y="106" width="1" height="21" fill="#26a69a"/>
<rect x="588" y="115" width="7" height="9" fill="#26a69a"/>
<rect x="600" y="107" width="1" height="25" fill="#ef5350"/>
<rect x="597" y="114" width="7" height="18" fill="#ef5350"/>
<rect x="608" y="115" width="1" height="20" fill="#26a69a"/>
<rect x="605" y="117" width="7" height="13" fill="#26a69a"/>
<rect x="617" y="109" width="1" height="24" fill="#ef5350"/>
<rect x="614" y="117" width="7" height="5" fill="#ef5350"/>
<rect x="625" y="122" width="1" height="23" fill="#ef5350"/>
<rect x="622" y="122" width="7" height="19" fill="#ef5350"/>
<rect x="634" y="138" width="1" height="30" fill="#ef5350"/>
<rect x="631" y="140" width="7" height="21" fill="#ef5350"/>
<rect x="642" y="154" width="1" height="27" fill="#ef5350"/>
<rect x="639" y="159" width="7" height="16" fill="#ef5350"/>
<rect x="651" y="157" width="1" height="19" fill="#26a69a"/>
<rect x="648" y="165" width="7" height="9" fill="#26a69a"/>
<rect x="659" y="149" width="1" height="21" fill="#26a69a"/>
<rect x="656" y="155" width="7" height="15" fill="#26a69a"/>
<rect x="668" y="140" width="1" height="45" fill="#26a69a"/>
<rect x="665" y="142" width="7" height="12" fill="#26a69a"/>
<rect x="676" y="118" width="1" height="26" fill="#26a69a"/>
<rect x="673" y="123" width="7" height="21" fill="#26a69a"/>
<rect x="685" y="111" width="1" height="20" fill="#ef5350"/>
<rect x="682" y="124" width="7" height="1" fill="#ef5350"/>
<rect x="693" y="123" width="1" height="19" fill="#ef5350"/>
<rect x="690" y="125" width="7" height="17" fill="#ef5350"/>
<rect x="702" y="136" width="1" height="22" fill="#ef5350"/>
<rect x="699" y="141" width="7" height="13" fill="#ef5350"/>
<rect x="710" y="144" width="1" height="21" fill="#ef5350"/>
<rect x="707" y="152" width="7" height="10" fill="#ef5350"/>
<rect x="719" y="155" width="1" height="29" fill="#ef5350"/>
<rect x="716" y="156" width="7" height="27" fill="#ef5350"/>
<rect x="727" y="169" width="1" height="28" fill="#26a69a"/>
<rect x="724" y="174" width="7" height="10" fill="#26a69a"/>
<rect x="736" y="163" width="1" height="45" fill="#26a69a"/>
<rect x="733" y="169" width="7" height="7" fill="#26a69a"/>
<rect x="744" y="170" width="1" height="39" fill="#ef5350"/>
<rect x="741" y="172" width="7" height="26" fill="#ef5350"/>
<rect x="753" y="191" width="1" height="24" fill="#ef5350"/>
<rect x="750" y="197" width="7" height="8" fill="#ef5350"/>
<rect x="761" y="180" width="1" height="28" fill="#26a69a"/>
<rect x="758" y="188" width="7" height="20" fill="#26a69a"/>
<rect x="770" y="146" width="1" height="51" fill="#26a69a"/>
<rect x="767" y="164" width="7" height="24" fill="#26a69a"/>
<rect x="778" y="158" width="1" height="16" fill="#26a69a"/>
<rect x="775" y="168" width="7" height="2" fill="#26a69a"/>
<rect x="787" y="165" width="1" height="49" fill="#ef5350"/>
<rect x="784" y="168" width="7" height="45" fill="#ef5350"/>
<rect x="795" y="209" width="1" height="16" fill="#ef5350"/>
<rect x="792" y="209" width="7" height="16" fill="#ef5350"/>
<line x1="0" y1="224.5" x2="998" y2="224.5" stroke="#b8483f" stroke-width="1" stroke-dasharray="1 2"/>
<line x1="175.5" y1="43" x2="175.5" y2="709" stroke="#6a6e7a" stroke-width="1" stroke-dasharray="5 6"/>
<line x1="-2" y1="274.5" x2="998" y2="274.5" stroke="#6a6e7a" stroke-width="1" stroke-dasharray="5 6"/>
<rect x="0" y="676" width="998" height="1" fill="#e0e3eb"/>
<polyline points="391.0,710.0 400.7,702.4 412.6,695.2 429.6,697.3 446.7,693.9 456.9,690.6 463.7,690.1 472.2,695.6 480.7,700.7 492.0,710.0" fill="none" stroke="#3f6fe3" stroke-width="1.2" stroke-linejoin="round"/>
<polyline points="425.0,710.0 446.7,703.2 462.0,699.0 472.2,698.1 482.4,699.0 494.4,702.4 513.0,710.0" fill="none" stroke="#f5821f" stroke-width="1.2" stroke-linejoin="round"/>
<circle cx="310.8" cy="663.8" r="10.7" fill="#fff"/><circle cx="310.8" cy="663.8" r="8.7" fill="#fff" stroke="#2f5ae6" stroke-width="2"/><text x="310.90000000000003" y="668.0999999999999" text-anchor="middle" font-family="Liberation Sans, sans-serif" font-size="12" fill="#2f5ae6" stroke="#2f5ae6" stroke-width="0.35">D</text>
<circle cx="353.8" cy="663.8" r="10.7" fill="#fff"/><circle cx="353.8" cy="663.8" r="8.7" fill="#fff" stroke="#2f5ae6" stroke-width="2"/><text x="353.90000000000003" y="668.0999999999999" text-anchor="middle" font-family="Liberation Sans, sans-serif" font-size="12" fill="#2f5ae6" stroke="#2f5ae6" stroke-width="0.35">D</text>
<circle cx="387.8" cy="663.8" r="10.7" fill="#fff"/><circle cx="387.8" cy="663.8" r="8.7" fill="#fff" stroke="#2f5ae6" stroke-width="2"/><text x="387.90000000000003" y="668.0999999999999" text-anchor="middle" font-family="Liberation Sans, sans-serif" font-size="12" fill="#2f5ae6" stroke="#2f5ae6" stroke-width="0.35">D</text>
<circle cx="446.8" cy="663.8" r="10.7" fill="#fff"/><circle cx="446.8" cy="663.8" r="8.7" fill="#fff" stroke="#2f5ae6" stroke-width="2"/><text x="446.90000000000003" y="668.0999999999999" text-anchor="middle" font-family="Liberation Sans, sans-serif" font-size="12" fill="#2f5ae6" stroke="#2f5ae6" stroke-width="0.35">D</text>
<circle cx="488.8" cy="663.8" r="10.7" fill="#fff"/><circle cx="488.8" cy="663.8" r="8.7" fill="#fff" stroke="#2f5ae6" stroke-width="2"/><text x="488.90000000000003" y="668.0999999999999" text-anchor="middle" font-family="Liberation Sans, sans-serif" font-size="12" fill="#2f5ae6" stroke="#2f5ae6" stroke-width="0.35">D</text>
<circle cx="556.8" cy="663.8" r="10.7" fill="#fff"/><circle cx="556.8" cy="663.8" r="8.7" fill="#fff" stroke="#2f5ae6" stroke-width="2"/><text x="556.9" y="668.0999999999999" text-anchor="middle" font-family="Liberation Sans, sans-serif" font-size="12" fill="#2f5ae6" stroke="#2f5ae6" stroke-width="0.35">D</text>
<circle cx="590.8" cy="663.8" r="10.7" fill="#fff"/><circle cx="590.8" cy="663.8" r="8.7" fill="#fff" stroke="#2f5ae6" stroke-width="2"/><text x="590.9" y="668.0999999999999" text-anchor="middle" font-family="Liberation Sans, sans-serif" font-size="12" fill="#2f5ae6" stroke="#2f5ae6" stroke-width="0.35">D</text>
<path d="M609.0 671.8 h16.8 v-13.2 l-8.4 -4.8 l-8.4 4.8z" fill="#fff" stroke="#fff" stroke-width="4.4" stroke-linejoin="round"/>
<path d="M609.0 671.8 h16.8 v-13.2 l-8.4 -4.8 l-8.4 4.8z" fill="#fff" stroke="#17977a" stroke-width="2" stroke-linejoin="round"/><text x="617.4" y="668.6999999999999" text-anchor="middle" font-family="Liberation Sans, sans-serif" font-size="11.5" fill="#17977a" stroke="#17977a" stroke-width="0.3">E</text>
<circle cx="658.6" cy="663.8" r="10.7" fill="#fff"/><circle cx="658.6" cy="663.8" r="8.7" fill="#fff" stroke="#2f5ae6" stroke-width="2"/><text x="658.7" y="668.0999999999999" text-anchor="middle" font-family="Liberation Sans, sans-serif" font-size="12" fill="#2f5ae6" stroke="#2f5ae6" stroke-width="0.35">D</text>
<path d="M660.3000000000001 655.1999999999999 h16.8 v13.4 l-8.4 4.6 l-8.4 -4.6z" fill="#fff" stroke="#fff" stroke-width="4.4" stroke-linejoin="round"/>
<path d="M660.3000000000001 655.1999999999999 h16.8 v13.4 l-8.4 4.6 l-8.4 -4.6z" fill="#fff" stroke="#e23a44" stroke-width="2" stroke-linejoin="round"/><text x="668.7" y="667.4" text-anchor="middle" font-family="Liberation Sans, sans-serif" font-size="11.5" fill="#e23a44" stroke="#e23a44" stroke-width="0.3">E</text>
<circle cx="692.7" cy="663.8" r="10.7" fill="#fff"/><circle cx="692.7" cy="663.8" r="8.7" fill="#fff" stroke="#2f5ae6" stroke-width="2"/><text x="692.8000000000001" y="668.0999999999999" text-anchor="middle" font-family="Liberation Sans, sans-serif" font-size="12" fill="#2f5ae6" stroke="#2f5ae6" stroke-width="0.35">D</text>
<path d="M710.7 655.1999999999999 h16.8 v13.4 l-8.4 4.6 l-8.4 -4.6z" fill="#fff" stroke="#fff" stroke-width="4.4" stroke-linejoin="round"/>
<path d="M710.7 655.1999999999999 h16.8 v13.4 l-8.4 4.6 l-8.4 -4.6z" fill="#fff" stroke="#e23a44" stroke-width="2" stroke-linejoin="round"/><text x="719.1" y="667.4" text-anchor="middle" font-family="Liberation Sans, sans-serif" font-size="11.5" fill="#e23a44" stroke="#e23a44" stroke-width="0.3">E</text>
<circle cx="760.6" cy="663.8" r="10.7" fill="#fff"/><circle cx="760.6" cy="663.8" r="8.7" fill="#fff" stroke="#2f5ae6" stroke-width="2"/><text x="760.7" y="668.0999999999999" text-anchor="middle" font-family="Liberation Sans, sans-serif" font-size="12" fill="#2f5ae6" stroke="#2f5ae6" stroke-width="0.35">D</text>
<path d="M761.9 655.1999999999999 h16.8 v13.4 l-8.4 4.6 l-8.4 -4.6z" fill="#fff" stroke="#fff" stroke-width="4.4" stroke-linejoin="round"/>
<path d="M761.9 655.1999999999999 h16.8 v13.4 l-8.4 4.6 l-8.4 -4.6z" fill="#fff" stroke="#e23a44" stroke-width="2" stroke-linejoin="round"/><text x="770.3" y="667.4" text-anchor="middle" font-family="Liberation Sans, sans-serif" font-size="11.5" fill="#e23a44" stroke="#e23a44" stroke-width="0.3">E</text>
<circle cx="795" cy="663.8" r="10.7" fill="#fff"/><circle cx="795" cy="663.8" r="8.7" fill="#fff" stroke="#2f5ae6" stroke-width="2"/><text x="795.1" y="668.0999999999999" text-anchor="middle" font-family="Liberation Sans, sans-serif" font-size="12" fill="#2f5ae6" stroke="#2f5ae6" stroke-width="0.35">D</text>
<rect x="812.8" y="655.25" width="16.9" height="16.9" rx="1.5" fill="#fff" stroke="#d63ee0" stroke-width="2"/><text x="820.85" y="667.8000000000001" text-anchor="middle" font-family="Liberation Sans, sans-serif" font-size="11.5" fill="#d63ee0" stroke="#d63ee0" stroke-width="0.3">E</text>
<circle cx="795.8" cy="638" r="10.9" fill="#fff"/>
<circle cx="795.8" cy="638" r="9" fill="#fff" stroke="#a23dd4" stroke-width="1.9"/>
<path d="M798.0 632.4 l-5.6 6.3 h3.4 l-2 5 l5.8 -6.6 h-3.4z" fill="#a23dd4"/>
<circle cx="802.5999999999999" cy="631.4" r="3.7" fill="#fff"/><circle cx="802.5999999999999" cy="631.4" r="2.4" fill="#e53945"/>
<path d="M784.4 635.6999999999999 q0.9 4.4 4.6 5.6 q-3.7 1.2 -4.6 5.6 q-0.9 -4.4 -4.6 -5.6 q3.7 -1.2 4.6 -5.6z" fill="#6a4cf5" stroke="#fff" stroke-width="1.6" paint-order="stroke"/>
<text x="829" y="108.8" font-family="Liberation Sans, sans-serif" font-size="12" fill="#787b86">0 (908.8)</text>
<text x="829" y="149.8" font-family="Liberation Sans, sans-serif" font-size="12" fill="#e5443d">0.236 (760.4)</text>
<text x="829" y="179.8" font-family="Liberation Sans, sans-serif" font-size="12" fill="#81c784">0.382 (668.6)</text>
<text x="829" y="206.8" font-family="Liberation Sans, sans-serif" font-size="12" fill="#4caf50">0.5 (594.4)</text>
<text x="829" y="238.3" font-family="Liberation Sans, sans-serif" font-size="12" fill="#089981">0.618 (520.2)</text>
<text x="829" y="289.8" font-family="Liberation Sans, sans-serif" font-size="12" fill="#64b5f6">0.786 (414.55)</text>
<text x="829" y="380.8" font-family="Liberation Sans, sans-serif" font-size="12" fill="#787b86">1 (279.95)</text>
</svg>

<div class="tb"></div><div class="band"></div>
<svg class="ico" style="left:0;top:0" width="998" height="44" viewBox="0 0 998 44" fill="none" stroke="#131722" stroke-width="1.3" stroke-linecap="round" stroke-linejoin="round">
 <rect x="0" y="38.8" width="998" height="4" fill="#e8e8e8" stroke="none"/>
 <!-- search -->
 <circle cx="11.6" cy="19.2" r="5.1" stroke-width="1.5"/><path d="M15.4 23.2 L19.4 26.6" stroke-width="1.6"/>
 <!-- plus circle -->
 <circle cx="112.3" cy="20.2" r="8.9" stroke-width="1.3"/><path d="M107.8 20.2h9M112.3 15.7v9" stroke-width="1.2"/>
 <!-- candles icon -->
 <rect x="200.3" y="13.2" width="4.4" height="13.4" stroke-width="1.3"/><path d="M202.5 10.2v3M202.5 26.6v3" stroke-width="1.3"/>
 <rect x="208.4" y="16.4" width="4.3" height="7.4" stroke-width="1.3"/><path d="M210.5 13.2v3.2M210.5 23.8v3" stroke-width="1.3"/>
 <!-- indicators icon -->
 <path d="M245.6 28.3v-4.2h5.2v4.2M250.8 24.1v-2h5.6v6.2M256.4 22.1v-3.9h5.4v10.1M245.6 28.3h16.2" stroke-width="1.3" stroke-linejoin="miter"/>
 <path d="M245.4 17.4l5.4-5 3.9 3.4 7.3-4.9" stroke-width="1.3"/>
 <!-- chevron -->
 <path d="M347.6 18.4l3.5 3.3 3.5-3.3" stroke="#434651" stroke-width="1.2"/>
 <!-- grid icon -->
 <rect x="372.6" y="12.9" width="6.3" height="5.7" rx="1.6" stroke-width="1.3"/><rect x="381.7" y="12.9" width="6.3" height="5.7" rx="1.6" stroke-width="1.3"/>
 <rect x="372.6" y="21.9" width="6.3" height="5.5" rx="1.6" stroke-width="1.3"/><rect x="381.7" y="21.9" width="6.3" height="5.5" rx="1.6" stroke-width="1.3"/>
 <!-- alert icon -->
 <path d="M429.5 27.3a7.6 7.6 0 1 1 4.2-6.2" stroke-width="1.3"/>
 <path d="M426.4 15.6v5h-3.3" stroke-width="1.3"/>
 <path d="M417.4 14.9l3.5-3.6M432.3 11.3l3.6 3.4" stroke-width="1.3"/>
 <path d="M428.6 26.7h8M432.6 22.7v8" stroke-width="1.2"/>
 <!-- replay icon -->
 <path d="M502.6 15.3v10.4l-6-5.2zM510.6 15.3v10.4l-6-5.2z" stroke-width="1.3"/>
 <!-- undo -->
 <path d="M595.3 14.8l-3.9 3.9 3.9 3.9M591.6 18.7h6.4a5.6 5.6 0 0 1 5.6 5.6v.9" stroke-width="1.2"/>
 <!-- redo -->
 <path d="M637.4 14.8l3.9 3.9-3.9 3.9M641 18.7h-6.4a5.6 5.6 0 0 0-5.6 5.6v.9" stroke="#c5c8d1" stroke-width="1.2"/>
</svg>
<div class="sep" style="left:136px"></div><div class="sep" style="left:182px"></div><div class="sep" style="left:229px"></div>
<div class="sep" style="left:403px"></div><div class="sep" style="left:574px"></div>
<div class="t" id="t_mc" style="left:24.4px;top:13.8px;font-size:12.3px;font-weight:700;letter-spacing:-0.5px;">MC</div>
<div class="t" id="t_m" style="left:154.4px;top:13.6px;font-size:12.6px;">M</div>
<div class="t" id="t_ind" style="left:269.6px;top:12.6px;font-size:14px;">Indicators</div>
<div class="t" id="t_alert" style="left:443.3px;top:12.6px;font-size:14px;">Alert</div>
<div class="t" id="t_replay" style="left:519.8px;top:12.6px;font-size:14px;letter-spacing:-0.6px;">Replay</div>


<svg class="ico" style="left:0;top:42px" width="300" height="100" viewBox="0 42 300 100">
 <circle cx="16.1" cy="59.2" r="9" fill="#15142a"/>
 <text x="16.1" y="61.2" text-anchor="middle" font-family="Liberation Serif, serif" font-weight="700" font-size="5.6" fill="#fff">LVMH</text>
 <defs><linearGradient id="pg" x1="0" x2="1" y1="0" y2="0"><stop offset="0.35" stop-color="#eeeeef"/><stop offset="0.65" stop-color="#fdefdc"/></linearGradient></defs>
 <rect x="201.2" y="50.2" width="39.5" height="17.8" rx="8.9" fill="url(#pg)"/>
 <rect x="207.2" y="57" width="9.8" height="4" rx="2" fill="#9b9b9d"/>
 <text x="226.4" y="63.4" font-family="Liberation Sans, sans-serif" font-weight="700" font-size="12" fill="#ef8e1d">D</text>
 <path d="M11 124.9l3.4 3 3.4-3" fill="none" stroke="#131722" stroke-width="1.2" stroke-linecap="round" stroke-linejoin="round"/>
</svg>
<div class="t" id="t_sym" style="left:29.6px;top:52.4px;font-size:14px;letter-spacing:-0.23px;color:#50535e;">LVMH <b>·</b> 1M <b>·</b> EURONEXT</div>
<div class="t oh" id="oh0" style="left:256.8px;top:53.4px;font-size:12.5px;color:#5b5d65;">O</div>
<div class="t oh" id="oh1" style="left:267.5px;top:53.4px;font-size:12.5px;color:#22a699;">305.00</div>
<div class="t oh" id="oh2" style="left:312.1px;top:53.4px;font-size:12.5px;color:#5b5d65;">H</div>
<div class="t oh" id="oh3" style="left:321.6px;top:53.4px;font-size:12.5px;color:#22a699;">330.40</div>
<div class="t oh" id="oh4" style="left:366.7px;top:53.4px;font-size:12.5px;color:#5b5d65;">L</div>
<div class="t oh" id="oh5" style="left:373.9px;top:53.4px;font-size:12.5px;color:#22a699;">285.70</div>
<div class="t oh" id="oh6" style="left:419.2px;top:53.4px;font-size:12.5px;color:#5b5d65;">C</div>
<div class="t oh" id="oh7" style="left:428.1px;top:53.4px;font-size:12.5px;color:#22a699;">327.90</div>
<div class="t oh" id="oh8" style="left:472.5px;top:53.4px;font-size:12.5px;color:#22a699;">+25.90</div>
<div class="t oh" id="oh9" style="left:516.6px;top:53.4px;font-size:12.5px;color:#22a699;">(+8.58%)</div>
<div class="t oh" id="oh10" style="left:571px;top:53.4px;font-size:12.5px;color:#5b5d65;">Vol</div>
<div class="t oh" id="oh11" style="left:589.5px;top:53.4px;font-size:12.5px;color:#22a699;">13.1</div>
<div class="t oh" id="oh12" style="left:614.6px;top:53.4px;font-size:12.5px;color:#22a699;">M</div>

<div class="btn" style="left:6px;top:75px;width:55px;height:34px;border-color:#ea5a6b;color:#e8455a;"><div class="t" style="left:0;width:53px;top:3.6px;font-size:12.6px;-webkit-text-stroke:0.35px;letter-spacing:0px">542.9</div><div class="t" style="left:0;width:53px;top:20.4px;font-size:10px;letter-spacing:-0.4px;">SELL</div></div>
<div class="t" id="t_00" style="left:68.6px;top:87.8px;font-size:10.5px;">0.0</div>
<div class="btn" style="left:91px;top:75px;width:54px;height:34px;border-color:#4a6fe0;color:#3a62dc;"><div class="t" style="left:0;width:52px;top:3.6px;font-size:12.6px;-webkit-text-stroke:0.35px;letter-spacing:0px">542.9</div><div class="t" style="left:0;width:52px;top:20.4px;font-size:10px;letter-spacing:-0.3px;">BUY</div></div>
<div class="btn" style="left:4.5px;top:116.5px;width:31px;height:20px;border-color:#e0e3eb;border-radius:4px;"></div>
<div class="t" id="t_2" style="left:24.2px;top:120.6px;font-size:12px;">2</div>
<!-- bottom-left -->
<div class="btn" style="left:4.5px;top:684.5px;width:28px;height:20px;border-color:#dfe1e7;border-radius:4px;"></div>
<svg class="ico" style="left:0;top:680px" width="70" height="29" viewBox="0 680 70 29" fill="none" stroke-linecap="round" stroke-linejoin="round">
 <path d="M14.6 693l3.8 3.4 3.8-3.4" stroke="#131722" stroke-width="1.4"/>
 <circle cx="50.1" cy="694.6" r="8.6" fill="#ece3fd" stroke="none"/>
 <path d="M45.3 693.4a5 5 0 0 1 8.8-1.9M54.9 695.8a5 5 0 0 1-8.8 1.9" stroke="#6f3ff0" stroke-width="1.5"/>
 <path d="M54.6 689.2v2.6h-2.6M45.6 700v-2.6h2.6" stroke="#6f3ff0" stroke-width="1.5"/>
</svg>

</body></html>
